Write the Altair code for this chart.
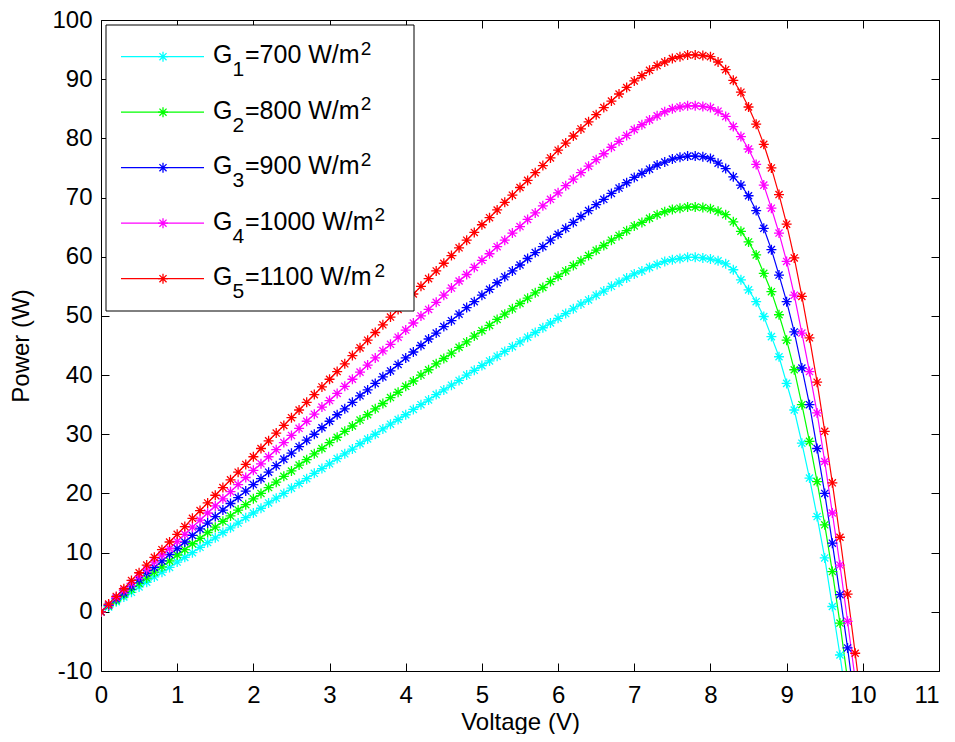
import altair as alt
import pandas as pd

# ---------------- data ----------------
voltage = [0.0, 0.1, 0.2, 0.3, 0.4, 0.5, 0.6, 0.7, 0.8, 0.9,
           1.0, 1.1, 1.2, 1.3, 1.4, 1.5, 1.6, 1.7, 1.8, 1.9,
           2.0, 2.1, 2.2, 2.3, 2.4, 2.5, 2.6, 2.7, 2.8, 2.9,
           3.0, 3.1, 3.2, 3.3, 3.4, 3.5, 3.6, 3.7, 3.8, 3.9,
           4.0, 4.1, 4.2, 4.3, 4.4, 4.5, 4.6, 4.7, 4.8, 4.9,
           5.0, 5.1, 5.2, 5.3, 5.4, 5.5, 5.6, 5.7, 5.8, 5.9,
           6.0, 6.1, 6.2, 6.3, 6.4, 6.5, 6.6, 6.7, 6.8, 6.9,
           7.0, 7.1, 7.2, 7.3, 7.4, 7.5, 7.6, 7.7, 7.8, 7.9,
           8.0, 8.1, 8.2, 8.3, 8.4, 8.5, 8.6, 8.7, 8.8, 8.9,
           9.0, 9.1, 9.2, 9.3, 9.4, 9.5, 9.6, 9.7, 9.8, 9.9,
           10.0]

power_700 = [0.0, 0.8, 1.7, 2.5, 3.3, 4.2, 5.0, 5.9, 6.7, 7.5,
             8.4, 9.2, 10.0, 10.9, 11.7, 12.5, 13.4, 14.2, 15.0, 15.9,
             16.7, 17.5, 18.4, 19.2, 20.0, 20.9, 21.7, 22.5, 23.4, 24.2,
             25.0, 25.9, 26.7, 27.5, 28.4, 29.2, 30.0, 30.9, 31.7, 32.5,
             33.3, 34.2, 35.0, 35.8, 36.7, 37.5, 38.3, 39.1, 40.0, 40.8,
             41.6, 42.4, 43.2, 44.0, 44.8, 45.6, 46.4, 47.2, 48.0, 48.8,
             49.6, 50.4, 51.2, 52.0, 52.7, 53.5, 54.2, 55.0, 55.7, 56.4,
             57.1, 57.6, 58.2, 58.7, 59.2, 59.5, 59.7, 59.9, 59.9, 59.8,
             59.6, 59.3, 58.8, 57.8, 56.1, 54.4, 52.4, 49.9, 46.5, 43.1,
             38.6, 34.1, 28.5, 22.6, 16.1, 9.1, 0.9, -7.3, -16.5]

power_800 = [0.0, 1.0, 1.9, 2.9, 3.8, 4.8, 5.7, 6.7, 7.6, 8.6,
             9.6, 10.5, 11.5, 12.4, 13.4, 14.3, 15.3, 16.2, 17.2, 18.1,
             19.1, 20.0, 21.0, 21.9, 22.9, 23.8, 24.8, 25.7, 26.7, 27.6,
             28.6, 29.5, 30.5, 31.4, 32.4, 33.3, 34.3, 35.2, 36.2, 37.1,
             38.1, 39.0, 40.0, 40.9, 41.9, 42.8, 43.7, 44.7, 45.6, 46.6,
             47.5, 48.4, 49.4, 50.3, 51.2, 52.1, 53.0, 53.9, 54.8, 55.8,
             56.7, 57.6, 58.5, 59.3, 60.2, 61.1, 61.9, 62.8, 63.6, 64.4,
             65.2, 65.8, 66.5, 67.1, 67.6, 68.0, 68.2, 68.4, 68.4, 68.3,
             68.1, 67.7, 67.1, 65.9, 64.3, 62.5, 60.3, 57.2, 54.1, 50.2,
             45.9, 40.9, 35.0, 28.8, 22.0, 14.7, 6.8, -1.9, -11.5]

power_900 = [0.0, 1.1, 2.2, 3.2, 4.3, 5.4, 6.5, 7.5, 8.6, 9.7,
             10.7, 11.8, 12.9, 14.0, 15.0, 16.1, 17.2, 18.3, 19.3, 20.4,
             21.5, 22.5, 23.6, 24.7, 25.8, 26.8, 27.9, 29.0, 30.0, 31.1,
             32.2, 33.3, 34.3, 35.4, 36.5, 37.5, 38.6, 39.7, 40.7, 41.8,
             42.9, 43.9, 45.0, 46.1, 47.1, 48.2, 49.2, 50.3, 51.4, 52.4,
             53.5, 54.5, 55.6, 56.6, 57.6, 58.6, 59.7, 60.7, 61.7, 62.8,
             63.8, 64.8, 65.8, 66.8, 67.8, 68.8, 69.7, 70.7, 71.6, 72.5,
             73.4, 74.1, 74.8, 75.5, 76.0, 76.5, 76.8, 77.0, 77.0, 76.9,
             76.6, 75.8, 74.9, 73.5, 72.1, 70.3, 67.8, 64.8, 61.2, 56.9,
             52.4, 47.3, 41.2, 35.0, 27.6, 20.0, 11.6, 2.9, -6.1, -16.0]

power_1000 = [0.0, 1.2, 2.4, 3.6, 4.8, 6.0, 7.2, 8.4, 9.6, 10.7,
              11.9, 13.1, 14.3, 15.5, 16.7, 17.9, 19.1, 20.3, 21.5, 22.7,
              23.9, 25.0, 26.2, 27.4, 28.6, 29.8, 31.0, 32.2, 33.4, 34.6,
              35.7, 36.9, 38.1, 39.3, 40.5, 41.7, 42.9, 44.1, 45.2, 46.4,
              47.6, 48.8, 50.0, 51.1, 52.3, 53.5, 54.7, 55.9, 57.0, 58.2,
              59.4, 60.5, 61.7, 62.8, 64.0, 65.1, 66.3, 67.4, 68.6, 69.7,
              70.8, 72.0, 73.1, 74.2, 75.3, 76.4, 77.4, 78.5, 79.5, 80.5,
              81.5, 82.3, 83.1, 83.8, 84.5, 85.0, 85.3, 85.5, 85.5, 85.4,
              85.2, 84.6, 83.7, 82.0, 80.3, 78.2, 75.6, 72.1, 68.2, 64.0,
              59.2, 53.5, 47.1, 40.6, 33.6, 25.4, 16.7, 7.9, -1.6, -11.5]

power_1100 = [0.0, 1.3, 2.6, 3.9, 5.3, 6.6, 7.9, 9.2, 10.5, 11.8,
              13.1, 14.4, 15.8, 17.1, 18.4, 19.7, 21.0, 22.3, 23.6, 24.9,
              26.2, 27.6, 28.9, 30.2, 31.5, 32.8, 34.1, 35.4, 36.7, 38.0,
              39.3, 40.6, 41.9, 43.3, 44.6, 45.9, 47.2, 48.5, 49.8, 51.1,
              52.4, 53.7, 55.0, 56.3, 57.6, 58.9, 60.2, 61.5, 62.8, 64.1,
              65.4, 66.6, 67.9, 69.2, 70.4, 71.7, 72.9, 74.2, 75.4, 76.7,
              78.0, 79.2, 80.4, 81.6, 82.8, 84.0, 85.2, 86.3, 87.5, 88.6,
              89.7, 90.6, 91.5, 92.3, 92.9, 93.5, 93.8, 94.1, 94.1, 94.0,
              93.8, 92.9, 91.6, 89.8, 87.8, 85.3, 82.4, 79.0, 75.0, 70.5,
              65.5, 59.8, 53.3, 46.3, 38.8, 30.5, 21.8, 12.6, 3.0, -7.0,
              -17.4]

series_names = ["G1", "G2", "G3", "G4", "G5"]
sub_digits = ["1", "2", "3", "4", "5"]
irradiance_text = ["700", "800", "900", "1000", "1100"]
series_colors = ["#00FFFF", "#00FF00", "#0000FF", "#FF00FF", "#FF0000"]
x_ticks = [0, 1, 2, 3, 4, 5, 6, 7, 8, 9, 10, 11]
y_ticks = [-10, 0, 10, 20, 30, 40, 50, 60, 70, 80, 90, 100]

all_series = [power_700, power_800, power_900, power_1000, power_1100]

rows = []
for name, vals in zip(series_names, all_series):
    for v, p in zip(voltage, vals):
        rows.append({"series": name, "V": v, "P": p})
df = pd.DataFrame(rows)

# ---------------- layout / style ----------------
W, H = 838, 651
FONT = "Liberation Sans"
FS = 24
LFS = 25
TICK = 8
MSIZE = 100
ASTERISK = "M-1,0L1,0M0,-1L0,1M-0.71,-0.71L0.71,0.71M-0.71,0.71L0.71,-0.71"

color_scale = alt.Scale(domain=series_names, range=series_colors)
color_enc = alt.Color("series:N", scale=color_scale, legend=None)

common_axis = dict(
    grid=True, gridColor="black", gridOpacity=1, gridWidth=1,
    ticks=False, tickSize=0, domain=False,
    labelFont=FONT, labelFontSize=FS, labelColor="black",
    labelFlush=False, labelOverlap=False,
    titleFont=FONT, titleFontSize=FS, titleColor="black",
    titleFontWeight="normal", titleBaseline="alphabetic", titleAlign="center",
)

x_enc = alt.X(
    "V:Q",
    scale=alt.Scale(domain=[0, 11], nice=False, zero=False),
    axis=alt.Axis(values=x_ticks, title="Voltage (V)",
                  gridDash=[TICK, H - 2 * TICK, TICK, 4000],
                  labelPadding=12, titleX=W / 2, titleY=58.5,
                  labelAlign={"expr": "datum.value == 11 ? 'right' : 'center'"},
                  **common_axis),
)
y_enc = alt.Y(
    "P:Q",
    scale=alt.Scale(domain=[-10, 100], nice=False, zero=False),
    axis=alt.Axis(values=y_ticks, title="Power (W)",
                  gridDash=[TICK, W - 2 * TICK, TICK, 4000],
                  labelPadding=9, labelExpr="'' + datum.value",
                  titleAngle=270, titleX=-73, titleY=H / 2,
                  **common_axis),
)

base = alt.Chart(df)
lines = base.mark_line(strokeWidth=1.2, clip=True).encode(
    x=x_enc, y=y_enc, color=color_enc, order="V:Q")
points = base.mark_point(shape=ASTERISK, size=MSIZE, filled=False, strokeWidth=1.3,
                         opacity=1, clip=True).encode(
    x=x_enc, y=y_enc, color=color_enc)
data_layer = alt.layer(lines, points)

# ---------------- legend (drawn by hand for sub/superscripts) ----------------
ADV = {"=": 584, "0": 556, "1": 556, "7": 556, "8": 556, "9": 556,
       " ": 278, "W": 944, "/": 278, "m": 833}
G_X = 112
SUB_X = 131.5
REST_X = 144
rest_texts = ["=" + t + " W/m" for t in irradiance_text]
sup_x = [REST_X + sum(ADV[c] for c in t) * LFS / 1000 + 1 for t in rest_texts]

legend_df = pd.DataFrame({
    "row": [0, 1, 2, 3, 4],
    "series": series_names,
    "sub": sub_digits,
    "rest": rest_texts,
    "supx": sup_x,
})
ly = alt.Y("row:Q", scale=alt.Scale(domain=[0, 4], range=[36.7, 258.7]), axis=None)

box = alt.Chart(pd.DataFrame({"a": [0]})).mark_rect(
    fill="white", stroke="black", strokeWidth=1).encode(
    x=alt.value(5), x2=alt.value(313), y=alt.value(5), y2=alt.value(291))

lg = alt.Chart(legend_df)
lg_lines = lg.mark_rule(strokeWidth=1.2).encode(
    x=alt.value(20), x2=alt.value(103), y=ly, color=color_enc)
lg_marks = lg.mark_point(shape=ASTERISK, size=MSIZE, filled=False, strokeWidth=1.3,
                         opacity=1).encode(x=alt.value(62), y=ly, color=color_enc)
txt_G = lg.mark_text(align="left", baseline="alphabetic", dy=6.5, font=FONT,
                     fontSize=LFS, color="black", text="G").encode(
    x=alt.value(G_X), y=ly)
txt_sub = lg.mark_text(align="left", baseline="alphabetic", dy=19.5, font=FONT,
                       fontSize=21, color="black").encode(
    x=alt.value(SUB_X), y=ly, text="sub:N")
txt_rest = lg.mark_text(align="left", baseline="alphabetic", dy=6.5, font=FONT,
                        fontSize=LFS, color="black").encode(
    x=alt.value(REST_X), y=ly, text="rest:N")
txt_sup = lg.mark_text(align="left", baseline="alphabetic", dy=-2, font=FONT,
                       fontSize=19, color="black", text="2").encode(
    x=alt.X("supx:Q", scale=None), y=ly)

legend_layer = alt.layer(box, lg_lines, lg_marks, txt_G, txt_sub, txt_rest, txt_sup)

chart = (
    alt.layer(data_layer, legend_layer)
    .resolve_scale(x="independent", y="independent")
    .properties(width=W, height=H,
                autosize=alt.AutoSizeParams(type="none"),
                padding={"left": 93, "top": 12, "right": 8, "bottom": 63},
                background="white")
    .configure_view(stroke="black", strokeWidth=1)
)

chart.save("out.html", embed_options={"renderer": "svg", "actions": False})
